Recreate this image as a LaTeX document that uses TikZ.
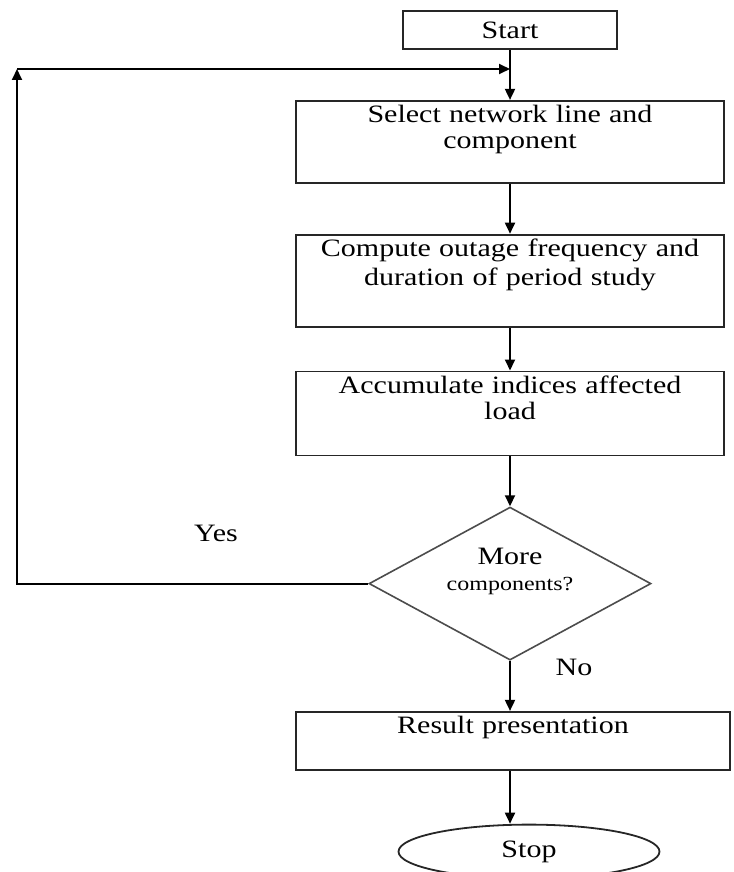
\documentclass[tikz,border=0pt]{standalone}
\usepackage{fontspec}
\setmainfont{Liberation Serif}[FakeStretch=1.2]
\usepackage{tikz}
\usetikzlibrary{arrows.meta,positioning,shapes.geometric}

\begin{document}
\begin{tikzpicture}[>={Triangle[length=5.5pt,width=5pt]},node distance=25pt,
  every node/.style={font=\fontsize{12.5}{13}\selectfont}]
  \tikzstyle{startbox}=[draw=black!85,line width=0.9pt,minimum width=107pt,minimum height=19pt,inner sep=0pt]
  \tikzstyle{stepbox}=[draw=black!85,line width=0.9pt,minimum width=214pt,text width=200pt,align=center,inner ysep=2pt,text height=9pt]
  \tikzstyle{decision}=[diamond,draw=black!70,line width=0.8pt,aspect=1.84,minimum width=141pt,minimum height=76.5pt,inner sep=0pt]
  \tikzstyle{stopbox}=[ellipse,draw=black!85,line width=0.9pt,minimum width=130.5pt,minimum height=27pt,inner sep=0pt]
  \useasboundingbox (0,0) rectangle (366.5pt,-436pt);
  \node[startbox] (start) at (255pt,-15pt) {Start};
  \node[stepbox,text depth=28pt,below=of start] (select) {Select network line and\\component};
  \node[stepbox,text depth=33pt,below=of select] (compute) {Compute outage frequency and\\[1.5pt]duration of period study};
  \node[stepbox,text depth=29pt,below=21.5pt of compute] (accum) {Accumulate indices affected\\load};
  \node[decision,below=of accum] (more) {};
  \node[align=center] (moretext) at ([yshift=6pt]more.center) {More\\{\fontsize{10}{12}\selectfont components?}};
  \node[stepbox,minimum width=217pt,text depth=16pt,below=of more,xshift=1.5pt] (result) {Result presentation};
  \node[stopbox,below=26.5pt of result,xshift=8pt] (stop) {Stop};
  \node (yes) at (108pt,-266.5pt) {Yes};
  \node (no) at (287pt,-333.5pt) {No};
  % loop back
  \coordinate (loop) at (8.5pt,-34.5pt);
  \coordinate (join) at (select.north |- loop);
  \draw[->,line width=0.9pt] (start) -- (select);
  \draw[->,line width=0.9pt] (select) -- (compute);
  \draw[->,line width=0.9pt] (compute) -- (accum);
  \draw[->,line width=0.9pt] (accum) -- (more);
  \draw[->,line width=0.9pt] (more.south) -- (more.south |- result.north);
  \draw[->,line width=0.9pt] (more.south |- result.south) -- (more.south |- stop.north);
  \draw[->,line width=0.9pt] (more.west) -| (loop);
  \draw[->,line width=0.9pt] (loop) -- (join);
\end{tikzpicture}
\end{document}
